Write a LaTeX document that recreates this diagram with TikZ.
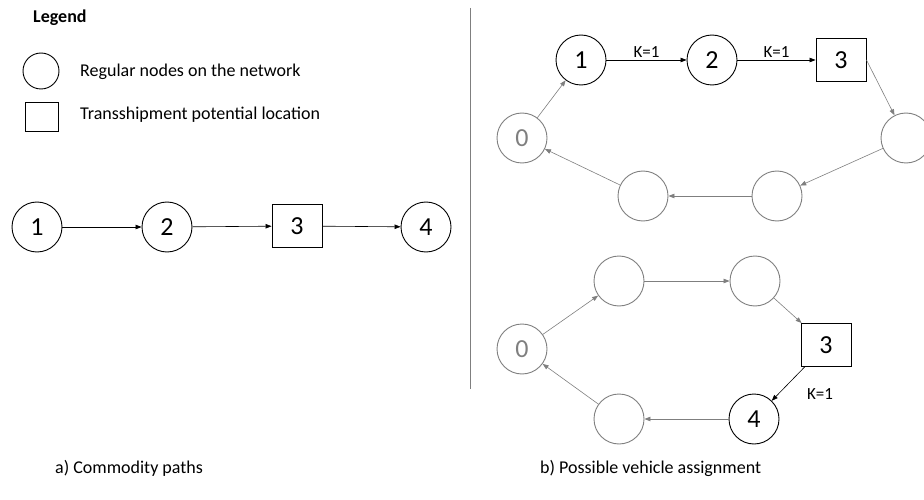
\documentclass[tikz,border=0pt]{standalone}
\usepackage{fontspec}
\setmainfont{Carlito}
\usetikzlibrary{arrows.meta}
\definecolor{dim}{HTML}{7F7F7F}
\tikzset{
  rnode/.style={circle, draw=black, line width=0.9pt, minimum size=50pt, inner sep=0pt, font=\fontsize{26}{26}\selectfont},
  tnode/.style={rectangle, draw=black, line width=0.9pt, minimum width=50pt, minimum height=43pt, inner sep=0pt, font=\fontsize{26}{26}\selectfont},
  gnode/.style={rnode, draw=dim, text=dim},
  flow/.style={draw=black, line width=0.6pt, -{Triangle[length=6pt,width=4.5pt]}},
  gflow/.style={draw=dim, line width=0.6pt, -{Triangle[length=6pt,width=4.5pt]}},
  txt/.style={font=\fontsize{18}{18}\selectfont, inner sep=0pt, anchor=west},
  klabel/.style={font=\fontsize{17}{17}\selectfont, inner sep=1pt}
}
\begin{document}
\begin{tikzpicture}[x=1pt,y=-1pt]
\useasboundingbox (0,0) rectangle (924,500);

% legend
\node[txt, font=\fontsize{18}{18}\selectfont\bfseries] (legtitle) at (33,18) {Legend};
\node[circle, draw=black, line width=0.9pt, minimum size=36pt, inner sep=0pt] (legc) at (41,71) {};
\node[txt] (legct) at (80,72) {Regular nodes on the network};
\node[rectangle, draw=black, line width=0.9pt, minimum width=33pt, minimum height=29pt, inner sep=0pt] (legs) at (42,117) {};
\node[txt] (legst) at (80,115) {Transshipment potential location};

% a) commodity path
\node[rnode] (a1) at (37,227) {1};
\node[rnode] (a2) at (167,227) {2};
\node[tnode] (a3) at (297,226) {3};
\node[rnode] (a4) at (426,227) {4};
\draw[flow] (a1) -- (a2);
\draw[flow] (a2) -- (a3);
\draw[flow] (a3) -- (a4);

% divider
\coordinate (dtop) at (470,8);
\coordinate (dbot) at (470,389);
\draw[dim, line width=0.8pt] (dtop) -- (dbot);

% b) upper vehicle route
\node[gnode] (u0) at (522,138) {0};
\node[rnode] (u1) at (581,60) {1};
\node[rnode] (u2) at (712,60) {2};
\node[tnode] (u3) at (841,60) {3};
\node[gnode] (ur) at (906,138) {};
\node[gnode] (ubr) at (777,196) {};
\node[gnode] (ubl) at (643,196) {};
\draw[gflow] (u0) -- (u1);
\draw[flow] (u1) -- node[klabel, above=1pt] (k1) {K=1} (u2);
\draw[flow] (u2) -- node[klabel, above=1pt] (k2) {K=1} (u3);
\draw[gflow] (u3.east) -- (ur);
\draw[gflow] (ur) -- (ubr);
\draw[gflow] (ubr) -- (ubl);
\draw[gflow] (ubl) -- (u0);

% b) lower vehicle route
\node[gnode] (l0) at (522,349) {0};
\node[gnode] (ltl) at (619,281) {};
\node[gnode] (ltr) at (755,281) {};
\node[tnode] (l3) at (826,345) {3};
\node[rnode] (l4) at (754,419) {4};
\node[gnode] (lbl) at (619,419) {};
\draw[gflow] (l0) -- (ltl);
\draw[gflow] (ltl) -- (ltr);
\draw[gflow] (ltr) -- (l3);
\draw[flow] (l3) -- (l4);
\node[klabel] (k3) at (820,394) {K=1};
\draw[gflow] (l4) -- (lbl);
\draw[gflow] (lbl) -- (l0);

% captions
\node[txt] (capa) at (55,468) {a) Commodity paths};
\node[txt] (capb) at (540,468) {b) Possible vehicle assignment};
\end{tikzpicture}
\end{document}
